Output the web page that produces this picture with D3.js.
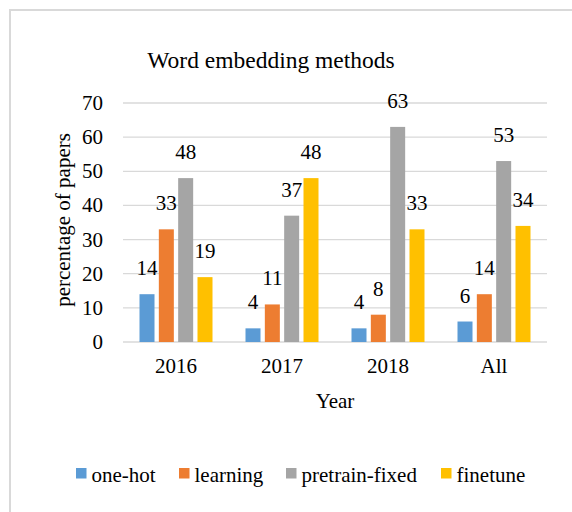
<!DOCTYPE html>
<html><head><meta charset="utf-8">
<script src="https://cdn.jsdelivr.net/npm/d3@7"></script>
<style>body{margin:0;background:#fff}svg{display:block}svg text{font-family:"Liberation Serif",serif}</style>
</head><body>
<script>
const categories = ["2016", "2017", "2018", "All"];
const seriesNames = ["one-hot", "learning", "pretrain-fixed", "finetune"];
const oneHot = [14, 4, 4, 6];
const learning = [33, 11, 8, 14];
const pretrainFixed = [48, 37, 63, 53];
const finetune = [19, 48, 33, 34];
const yTicks = [0, 10, 20, 30, 40, 50, 60, 70];
const colors = ["#5B9BD5", "#ED7D31", "#A5A5A5", "#FFC000"];
const title = "Word embedding methods";
const xTitle = "Year";
const yTitle = "percentage of papers";

const seriesValues = [oneHot, learning, pretrainFixed, finetune];
const W = 572, H = 512;
const svg = d3.select("body").append("svg").attr("width", W).attr("height", H);

svg.append("path").attr("d", `M10,${H+5}V10H${W+5}`).attr("fill","none")
  .attr("stroke","#d9d9d9").attr("stroke-width",2);

const x = d3.scaleBand().domain(categories).range([123, 547]);
const xs = d3.scaleBand().domain(seriesNames).range([16.5, x.bandwidth()-16.5]).paddingInner(0.224);
const y = d3.scaleLinear().domain([0, 70]).range([342, 103]);

svg.append("text").attr("x", 271).attr("y", 68).attr("text-anchor","middle")
  .style("font-size", "23.5px").attr("fill","#000").text(title);

const grid = svg.append("g");
yTicks.forEach(t => {
  grid.append("line").attr("x1", 123).attr("x2", 547).attr("y1", y(t)).attr("y2", y(t))
    .attr("stroke", "#d9d9d9").attr("stroke-width", 1.3);
  grid.append("text").attr("x", 103).attr("y", y(t) + 7).attr("text-anchor","end")
    .style("font-size", "21px").attr("fill","#000").text(String(t));
});

const groups = svg.append("g").selectAll("g").data(categories).join("g")
  .attr("transform", d => `translate(${x(d)},0)`);
seriesNames.forEach((s, si) => {
  groups.append("rect")
    .attr("x", xs(s)).attr("width", xs.bandwidth())
    .attr("y", (d, i) => y(seriesValues[si][i]))
    .attr("height", (d, i) => y(0) - y(seriesValues[si][i]))
    .attr("fill", colors[si]);
  groups.append("text")
    .attr("x", xs(s) + xs.bandwidth()/2)
    .attr("y", (d, i) => y(seriesValues[si][i]) - 19)
    .attr("text-anchor","middle").style("font-size", "21px").attr("fill","#000")
    .text((d, i) => String(seriesValues[si][i]));
});

categories.forEach(c => {
  svg.append("text").attr("x", x(c) + x.bandwidth()/2).attr("y", 373).attr("text-anchor","middle")
    .style("font-size", "21px").attr("fill","#000").text(c);
});

svg.append("text").attr("x", 335).attr("y", 408).attr("text-anchor","middle")
  .style("font-size", "21px").attr("fill","#000").text(xTitle);

svg.append("text").attr("transform", "translate(70,220) rotate(-90)").attr("text-anchor","middle")
  .style("font-size", "21px").attr("fill","#000").text(yTitle);

const legendX = [76, 179, 286, 441];
seriesNames.forEach((s, i) => {
  svg.append("rect").attr("x", legendX[i]).attr("y", 468).attr("width", 10.5).attr("height", 10.5).attr("fill", colors[i]);
  svg.append("text").attr("x", legendX[i] + 15.5).attr("y", 482)
    .style("font-size", "21px").attr("fill","#000").text(s);
});
</script>
</body></html>
